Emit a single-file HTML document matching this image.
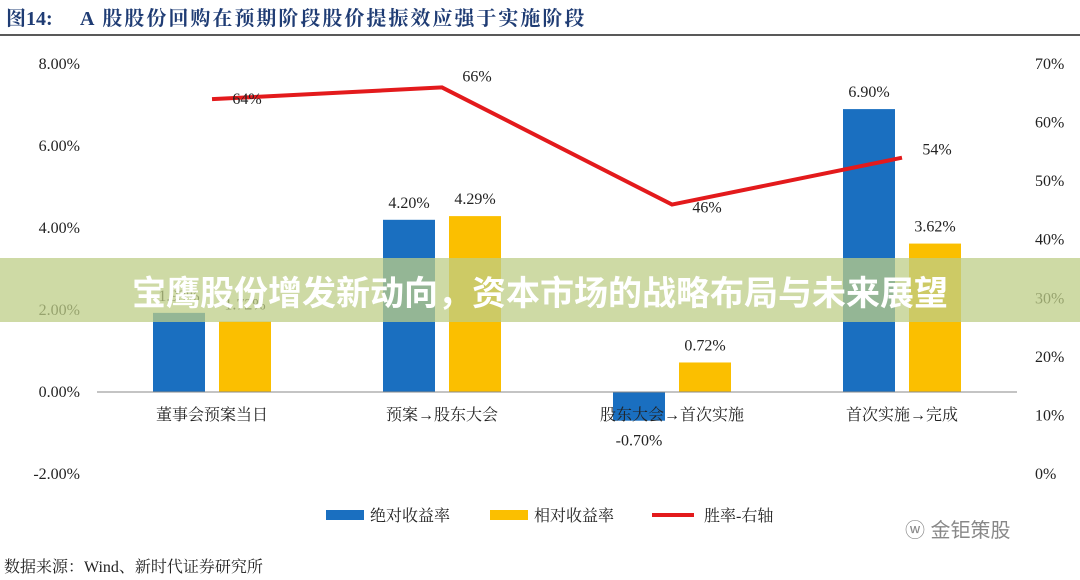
<!DOCTYPE html>
<html><head><meta charset="utf-8"><style>
body{margin:0;background:#fff;font-family:"Liberation Serif","Noto Serif CJK SC",serif;}
#wrap{position:relative;width:1080px;height:580px;overflow:hidden;background:#fff}
#banner{position:absolute;left:0;top:258px;width:1080px;height:64px;background:rgba(190,205,135,0.75);color:#fff;font:bold 34px "Liberation Sans","Noto Sans CJK SC",sans-serif;display:flex;align-items:center;justify-content:center;letter-spacing:0px}
</style></head><body>
<div id="wrap">
<svg id="chart" width="1080" height="580" style="position:absolute;left:0;top:0">
<text x="6" y="25" font-size="20" font-weight="bold" fill="#1f3c74"><tspan>图14:</tspan><tspan x="80" letter-spacing="2">A 股股份回购在预期阶段股价提振效应强于实施阶段</tspan></text>
<line x1="0" y1="35" x2="1080" y2="35" stroke="#222" stroke-width="1.5"/>
<text x="4" y="572" font-size="16" fill="#222">数据来源：Wind、新时代证券研究所</text>
<text x="905" y="537" font-size="20" fill="#888" font-family="Liberation Sans,Noto Sans CJK SC,sans-serif">ⓦ 金钜策股</text>
</svg>
<div id="banner">宝鹰股份增发新动向，资本市场的战略布局与未来展望</div>
</div>
<script>
const categories=["董事会预案当日","预案→股东大会","股东大会→首次实施","首次实施→完成"];
const absReturn=[1.93,4.20,-0.70,6.90];
const relReturn=[1.72,4.29,0.72,3.62];
const winRate=[64,66,46,54];
const leftTicks=[8,6,4,2,0,-2];
const rightTicks=[70,60,50,40,30,20,10,0];
const NS="http://www.w3.org/2000/svg";
const svg=document.getElementById('chart');
const yL=v=>392-v*41;
const yR=v=>474-v*(410/70);
const xC=i=>212+i*230;
function mk(t,a,txt){const e=document.createElementNS(NS,t);for(const k in a)e.setAttribute(k,a[k]);if(txt!==undefined)e.textContent=txt;svg.appendChild(e);return e;}
leftTicks.forEach(v=>{const e=mk('text',{x:80,y:yL(v)+5,'text-anchor':'end','font-size':16,fill:'#222'},v.toFixed(2)+'%');

});
rightTicks.forEach(v=>{const e=mk('text',{x:1035,y:yR(v)+5,'font-size':16,fill:'#222'},v+'%');

});
categories.forEach((c,i)=>{
const b=absReturn[i],r=relReturn[i],x=xC(i);
const y1=Math.min(yL(b),yL(0)),h1=Math.abs(yL(b)-yL(0));
const rb=mk('rect',{x:x-59,y:y1,width:52,height:h1,fill:'#1a6fc0'});


const ry=mk('rect',{x:x+7,y:Math.min(yL(r),yL(0)),width:52,height:Math.abs(yL(r)-yL(0)),fill:'#fbbf00'});


const lb=mk('text',{x:x-33,y:b>=0?yL(b)-12:yL(b)+25,'text-anchor':'middle','font-size':16,fill:'#222'},b.toFixed(2)+'%');


const lr=mk('text',{x:x+33,y:yL(r)-12,'text-anchor':'middle','font-size':16,fill:'#222'},r.toFixed(2)+'%');


});
const ax=mk('line',{x1:97,y1:392,x2:1017,y2:392,stroke:'#888','stroke-width':1});


categories.forEach((c,i)=>{const t=mk('text',{x:xC(i),y:420,'text-anchor':'middle','font-size':16,fill:'#222'},c);

});
const pl=mk('polyline',{points:winRate.map((v,i)=>xC(i)+','+yR(v)).join(' '),fill:'none',stroke:'#e31a1c','stroke-width':4});


winRate.forEach((v,i)=>{const dy=[5,-6,8,-3][i];
const t=mk('text',{x:xC(i)+35,y:yR(v)+dy,'text-anchor':'middle','font-size':16,fill:'#222'},v+'%');

});
const leg=[['rect','#1a6fc0','绝对收益率',326],['rect','#fbbf00','相对收益率',490],['line','#e31a1c','胜率-右轴',652]];
leg.forEach(l=>{let m;
if(l[0]==='rect')m=mk('rect',{x:l[3],y:510,width:38,height:10,fill:l[1]});
else m=mk('line',{x1:l[3],y1:515,x2:l[3]+42,y2:515,stroke:l[1],'stroke-width':4});


const t=mk('text',{x:l[3]+(l[0]==='rect'?44:52),y:521,'font-size':16,fill:'#222'},l[2]);

});
document.getElementById('wrap').appendChild(document.getElementById('banner'));
</script>
</body></html>
